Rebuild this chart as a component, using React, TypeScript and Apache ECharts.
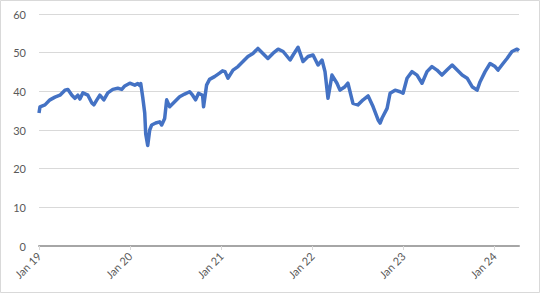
import React, { useEffect, useRef } from "react";
import * as echarts from "echarts";

const dates: string[] = [
  "2019-01-01","2019-01-05","2019-01-25","2019-02-14","2019-03-06","2019-03-26","2019-04-15","2019-04-27",
  "2019-05-13","2019-05-25","2019-06-06","2019-06-14","2019-06-26","2019-07-16","2019-08-01","2019-08-09",
  "2019-08-21","2019-09-02","2019-09-18","2019-10-04","2019-10-24","2019-11-13","2019-11-29","2019-12-11",
  "2019-12-31","2020-01-20","2020-02-01","2020-02-09","2020-02-13","2020-02-21","2020-02-29","2020-03-04",
  "2020-03-12","2020-03-20","2020-03-28","2020-04-13","2020-04-29","2020-05-07","2020-05-19","2020-05-27",
  "2020-06-08","2020-06-28","2020-07-18","2020-08-07","2020-08-27","2020-09-08","2020-09-20","2020-10-02",
  "2020-10-18","2020-10-22","2020-11-03","2020-11-15","2020-12-05","2020-12-25","2021-01-06","2021-01-16",
  "2021-01-28","2021-02-17","2021-03-09","2021-03-29","2021-04-18","2021-05-08","2021-05-28","2021-06-17",
  "2021-07-07","2021-07-27","2021-08-17","2021-09-06","2021-10-04","2021-10-16","2021-11-05","2021-11-25",
  "2021-12-15","2022-01-04","2022-01-24","2022-02-09","2022-02-21","2022-03-05","2022-03-21","2022-04-10",
  "2022-04-22","2022-05-12","2022-05-24","2022-06-13","2022-07-03","2022-07-24","2022-08-13","2022-09-02",
  "2022-09-22","2022-09-30","2022-10-08","2022-10-28","2022-11-09","2022-11-29","2022-12-19","2022-12-31",
  "2023-01-16","2023-02-05","2023-02-25","2023-03-17","2023-04-06","2023-04-26","2023-05-16","2023-06-05",
  "2023-06-25","2023-07-16","2023-08-05","2023-08-25","2023-09-14","2023-10-04","2023-10-24","2023-11-05",
  "2023-11-25","2023-12-15","2024-01-04","2024-01-16","2024-02-05","2024-02-21","2024-03-12","2024-04-01",
  "2024-04-09"
];

const values: number[] = [
  34.4,36.0,36.5,37.8,38.5,39.0,40.3,40.5,
  39.0,38.2,39.0,38.0,39.6,39.0,37.0,36.5,
  37.8,39.0,37.8,39.6,40.5,40.8,40.5,41.4,
  42.1,41.6,42.0,41.5,42.0,38.5,34.4,29.0,
  26.0,30.0,31.3,31.8,32.1,31.3,33.0,37.8,
  36.0,37.3,38.6,39.3,39.9,39.0,37.8,39.5,
  39.0,36.0,41.6,43.1,43.8,44.7,45.3,45.1,
  43.4,45.5,46.4,47.7,49.0,49.8,51.1,49.8,
  48.5,49.8,50.9,50.3,48.1,49.4,51.4,47.7,
  49.0,49.4,46.8,48.1,45.1,38.2,44.2,42.1,
  40.3,41.2,42.1,36.9,36.5,37.8,38.8,36.0,
  32.6,31.8,33.1,35.6,39.5,40.3,39.9,39.5,
  43.4,45.1,44.2,42.1,45.1,46.4,45.5,44.2,
  45.5,46.8,45.5,44.2,43.4,41.2,40.3,42.5,
  45.1,47.2,46.4,45.5,47.2,48.5,50.3,50.9,
  50.5
];

const yMin = 0;
const yMax = 60;
const yStep = 10;
const xStart = "2019-01-01";
const xEnd = "2024-04-09";
const tickYears: string[] = ["2019-01-01", "2020-01-01", "2021-01-01", "2022-01-01", "2023-01-01", "2024-01-01"];
const monthNames: string[] = ["Jan","Feb","Mar","Apr","May","Jun","Jul","Aug","Sep","Oct","Nov","Dec"];

const toTime = (d: string) => +new Date(d + "T00:00:00Z");

export default function App() {
  const ref = useRef<HTMLDivElement>(null);
  useEffect(() => {
    if (!ref.current) return;
    const chart = echarts.init(ref.current, null, { renderer: "svg" });
    const tickTimes = tickYears.map(toTime);
    chart.setOption({
      animation: false,
      backgroundColor: "#ffffff",
      graphic: [
        {
          type: "rect",
          shape: { x: 0.5, y: 0.5, width: 539, height: 292 },
          style: { fill: "none", stroke: "#d9d9d9", lineWidth: 1 },
          silent: true,
        },
      ],
      grid: { left: 39, right: 26, top: 14, bottom: 49, containLabel: false },
      xAxis: {
        type: "value",
        min: toTime(xStart),
        max: toTime(xEnd),
        axisLine: { show: true, onZero: false, lineStyle: { color: "#a6a6a6", width: 2 } },
        axisTick: {
          show: true,
          length: 4,
          lineStyle: { color: "#d9d9d9" },
          customValues: tickTimes,
        },
        axisLabel: {
          customValues: tickTimes,
          rotate: 45,
          color: "#595959",
          fontSize: 11,
          fontFamily: "Lato, 'Open Sans', sans-serif",
          margin: 8,
          formatter: (v: number) => {
            const d = new Date(v);
            return monthNames[d.getUTCMonth()] + " " + String(d.getUTCFullYear()).slice(2);
          },
        },
        splitLine: { show: false },
      },
      yAxis: {
        type: "value",
        min: yMin,
        max: yMax,
        interval: yStep,
        axisLine: { show: false },
        axisTick: { show: false },
        axisLabel: {
          color: "#595959",
          fontSize: 11,
          fontFamily: "Lato, 'Open Sans', sans-serif",
          margin: 13,
        },
        splitLine: { show: true, lineStyle: { color: "#d9d9d9", width: 1 } },
      },
      series: [
        {
          type: "line",
          data: dates.map((d, i) => [toTime(d), values[i]]),
          showSymbol: false,
          symbol: "none",
          lineStyle: { color: "#4472c4", width: 3.5, join: "round" },
          z: 3,
        },
      ],
    });
    return () => chart.dispose();
  }, []);
  return (
    <div style={{ position: "absolute", left: 0, top: 0, width: 545, height: 295, background: "#fff" }}>
      <div ref={ref} style={{ width: 545, height: 295 }} />
    </div>
  );
}
